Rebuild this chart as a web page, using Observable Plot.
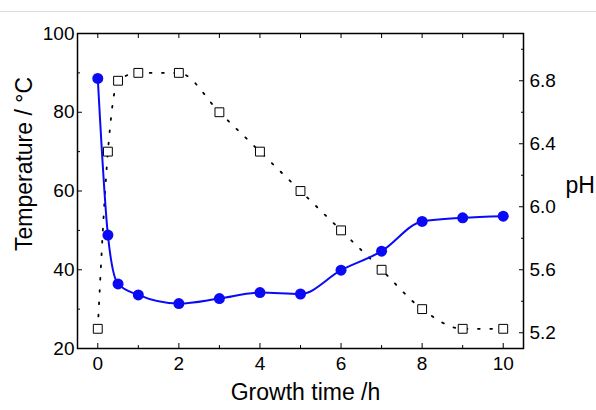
<!DOCTYPE html>
<html><head><meta charset="utf-8">
<script src="https://cdn.jsdelivr.net/npm/d3@7"></script>
<script src="https://cdn.jsdelivr.net/npm/@observablehq/plot@0.6"></script>
<style>
body{margin:0;background:#fff;font-family:"Liberation Sans",Arial,sans-serif;}
#wrap{position:relative;width:596px;height:410px;overflow:hidden;}
#topline{position:absolute;left:0;top:11px;width:596px;height:1px;background:#dcdcdc;}
#chart{position:absolute;left:0;top:0;}
</style></head><body><div id="wrap"><div id="chart"></div><div id="topline"></div></div>
<script>
const timeH = [0, 0.25, 0.5, 1, 2, 3, 4, 5, 6, 7, 8, 9, 10];
const temperatureC = [25, 70, 88, 90, 90, 80, 70, 60, 50, 40, 30, 25, 25];
const pHValues = [6.815, 5.82, 5.51, 5.44, 5.385, 5.417, 5.455, 5.446, 5.597, 5.718, 5.907, 5.93, 5.94];
const xTicks = [0, 2, 4, 6, 8, 10];
const xMinor = [1, 3, 5, 7, 9];
const tTicks = [20, 40, 60, 80, 100];
const tMinor = [30, 50, 70, 90];
const pHTicks = [5.2, 5.6, 6.0, 6.4, 6.8];
const pHMinor = [5.4, 5.8, 6.2, 6.6, 7.0];
const pHDomain = [5.1, 7.1];
const tDomain = [20, 100];
const xDomain = [-0.5, 10.5];

const toT = p => tDomain[0] + (p - pHDomain[0]) * (tDomain[1] - tDomain[0]) / (pHDomain[1] - pHDomain[0]);
const fromT = t => pHDomain[0] + (t - tDomain[0]) * (pHDomain[1] - pHDomain[0]) / (tDomain[1] - tDomain[0]);
const tempData = timeH.map((t, i) => ({t, v: temperatureC[i]}));
const phData = timeH.map((t, i) => ({t, v: toT(pHValues[i])}));
const blue = "#0a0af5";
const font = "'Liberation Sans', Arial, sans-serif";

const chart = Plot.plot({
  width: 596, height: 410,
  marginLeft: 77, marginRight: 73, marginTop: 33, marginBottom: 62,
  style: {fontFamily: font, fontSize: "19px", color: "#000", background: "transparent", overflow: "visible"},
  x: {domain: xDomain},
  y: {domain: tDomain},
  marks: [
    Plot.line(tempData, {x: "t", y: "v", curve: "monotone-x", stroke: "#000", strokeWidth: 1.8, strokeDasharray: "1.8,10.5"}),
    Plot.dot(tempData, {x: "t", y: "v", symbol: "square", r: 5, fill: "#fff", stroke: "#000", strokeWidth: 1}),
    Plot.line(phData, {x: "t", y: "v", curve: "monotone-x", stroke: blue, strokeWidth: 2}),
    Plot.dot(phData, {x: "t", y: "v", r: 5.5, fill: blue}),
    Plot.frame({stroke: "#000", strokeWidth: 1.5}),
    Plot.axisX(xTicks, {anchor: "bottom", tickSize: -5, tickPadding: 13, tickFormat: d => String(d), label: null, fontSize: 19}),
    Plot.axisX(xMinor, {anchor: "bottom", tickSize: -3, tickFormat: () => "", label: null}),
    Plot.axisX([...xTicks, ...xMinor], {anchor: "top", tickSize: -4, tickFormat: () => "", label: null}),
    Plot.axisY(tTicks, {anchor: "left", tickSize: -5, tickPadding: 8, tickFormat: d => String(d), label: null, fontSize: 19}),
    Plot.axisY(tMinor, {anchor: "left", tickSize: -3, tickFormat: () => "", label: null}),
    Plot.axisY(pHTicks.map(toT), {anchor: "right", tickSize: -5, tickPadding: 11, tickFormat: d => fromT(d).toFixed(1), label: null, fontSize: 19}),
    Plot.axisY(pHMinor.map(toT), {anchor: "right", tickSize: -3, tickFormat: () => "", label: null}),
    Plot.text(["Growth time /h"], {frameAnchor: "bottom", dx: 5, dy: 51, fontSize: 23}),
    Plot.text(["Temperature / °C"], {frameAnchor: "left", textAnchor: "middle", rotate: -90, dx: -53, dy: -27, fontSize: 23}),
    Plot.text(["pH"], {frameAnchor: "right", textAnchor: "start", dx: 42, dy: -5, fontSize: 23})
  ]
});
document.getElementById("chart").append(chart);
</script>
</body></html>
